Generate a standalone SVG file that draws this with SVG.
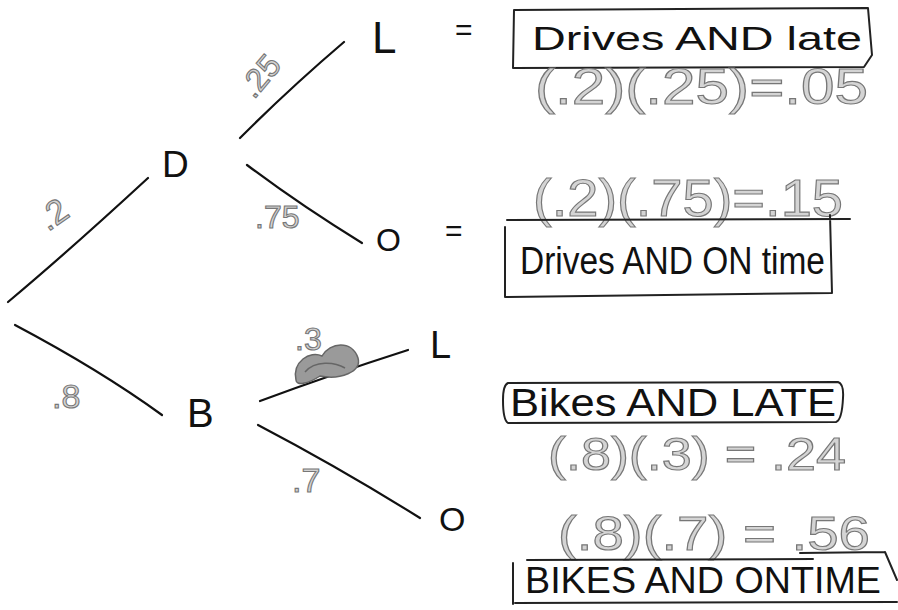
<svg xmlns="http://www.w3.org/2000/svg" width="898" height="610" viewBox="0 0 898 610">
<style>
.ink{font-family:"Liberation Sans","DejaVu Sans",sans-serif;fill:#111;}
.gray{font-family:"Liberation Sans","DejaVu Sans",sans-serif;fill:#d4d4d4;stroke:#777;stroke-width:1.1;}
.edge{fill:none;stroke:#111;stroke-width:2.2;stroke-linecap:round;}
.box{fill:none;stroke:#222;stroke-width:2;stroke-linejoin:round;stroke-linecap:round;}
</style>
<rect width="898" height="610" fill="#fff"/>
<g id="connectors">
<path class="edge" d="M8,302 Q70,250 148,178"/>
<path class="edge" d="M15,325 Q100,370 162,415"/>
<path class="edge" d="M240,138 Q290,88 344,42"/>
<path class="edge" d="M247,165 Q300,205 362,243"/>
<path class="edge" d="M260,401 Q330,375 408,350"/>
<path class="edge" d="M258,425 Q340,468 420,518"/>
</g>
<g id="edge-labels">
<text class="gray" font-size="34" transform="translate(48,232) rotate(-35)">.2</text>
<text class="gray" font-size="32" transform="translate(254,100) rotate(-50)">.25</text>
<text class="gray" font-size="32" x="255" y="228">.75</text>
<text class="gray" font-size="34" x="52" y="408">.8</text>
<text class="gray" font-size="32" x="295" y="350">.3</text>
<path d="M296,380 C292,362 310,350 322,356 C330,342 352,340 358,358 C362,372 340,380 320,376 C308,384 296,386 296,380 Z M305,372 C315,360 335,362 345,368" fill="#9a9a9a" stroke="#666" stroke-width="1.5"/>
<text class="gray" font-size="34" x="292" y="492">.7</text>
</g>
<g id="node-D"><text class="ink" font-size="37" x="162" y="177">D</text></g>
<g id="node-B"><text class="ink" font-size="40" x="187" y="427">B</text></g>
<g id="node-L1"><text class="ink" font-size="44" x="372" y="53">L</text><text class="ink" font-size="30" x="455" y="40">=</text></g>
<g id="node-O1"><text class="ink" font-size="32" x="376" y="251">O</text><text class="ink" font-size="30" x="445" y="241">=</text></g>
<g id="node-L2"><text class="ink" font-size="38" x="430" y="358">L</text></g>
<g id="node-O2"><text class="ink" font-size="34" x="439" y="531">O</text></g>
<g id="outcome-DL">
<path class="box" d="M514,10 L868,8 L872,55 L864,67 L513,68 Z"/>
<text class="ink" font-size="34" x="532" y="50" textLength="330" lengthAdjust="spacingAndGlyphs">Drives AND late</text>
<text class="gray" font-size="50" x="535" y="104" textLength="333" lengthAdjust="spacingAndGlyphs">(.2)(.25)=.05</text>
</g>
<g id="outcome-DO">
<text class="gray" font-size="52" x="533" y="216" textLength="310" lengthAdjust="spacingAndGlyphs">(.2)(.75)=.15</text>
<path class="box" d="M507,220 L850,219 M505,227 L505,297 L832,293 L830,215"/>
<text class="ink" font-size="38" x="520" y="274" textLength="305" lengthAdjust="spacingAndGlyphs">Drives AND ON time</text>
</g>
<g id="outcome-BL">
<path class="box" d="M508,383 L838,382 Q844,384 843,398 Q842,420 836,422 L508,423 Q503,420 503,400 Q503,385 508,383"/>
<text class="ink" font-size="38" x="510" y="416" textLength="326" lengthAdjust="spacingAndGlyphs">Bikes AND LATE</text>
<text class="gray" font-size="46" x="548" y="470" textLength="298" lengthAdjust="spacingAndGlyphs">(.8)(.3) = .24</text>
</g>
<g id="outcome-BO">
<text class="gray" font-size="48" x="558" y="550" textLength="312" lengthAdjust="spacingAndGlyphs">(.8)(.7) = .56</text>
<path class="box" d="M527,560 L813,559 M800,553 L885,552 M513,563 L513,604 M515,603 L897,602 M885,552 L897,580"/>
<text class="ink" font-size="36" x="525" y="593" textLength="356" lengthAdjust="spacingAndGlyphs">BIKES AND ONTIME</text>
</g>
</svg>
